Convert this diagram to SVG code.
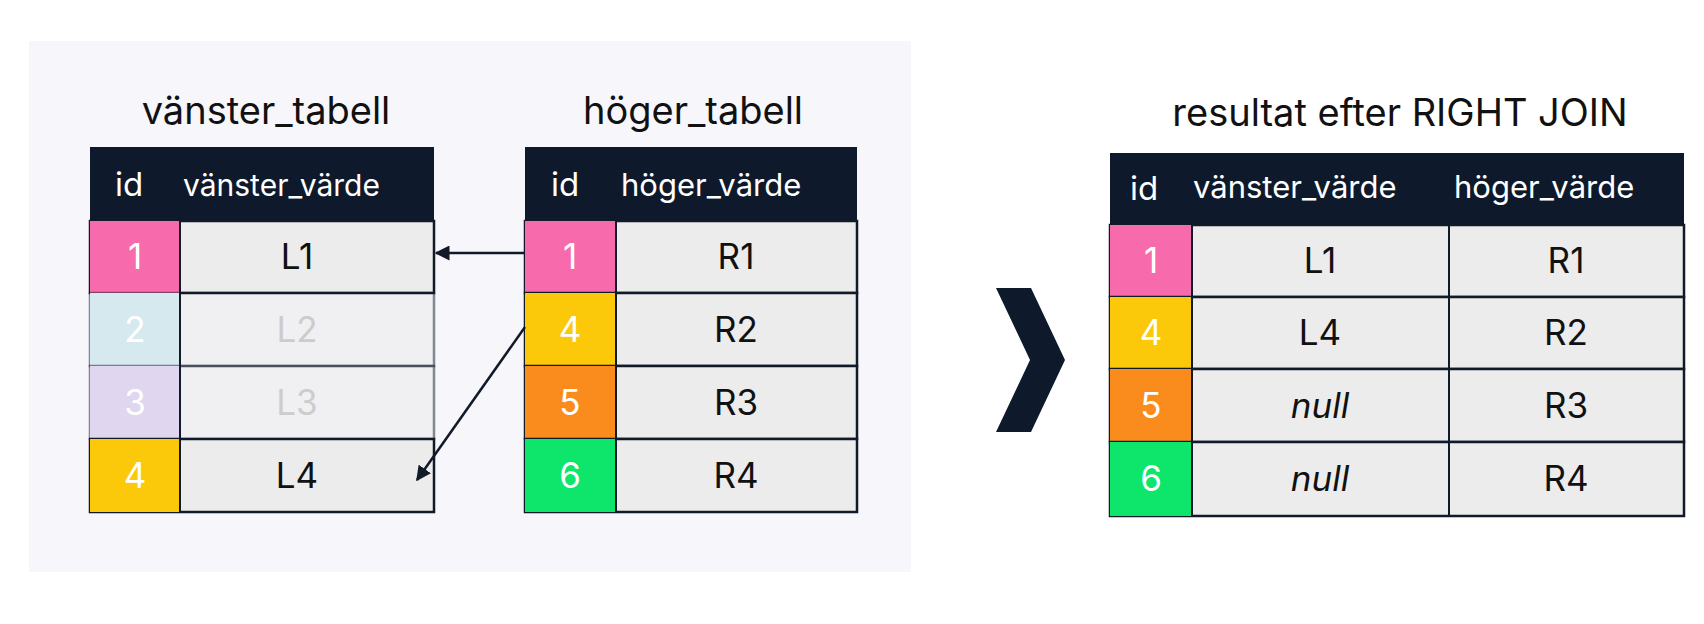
<svg xmlns="http://www.w3.org/2000/svg" width="1704" height="624" viewBox="0 0 1704 624">
<defs>
<style>
text{font-family:Inter,"Noto Sans",sans-serif;fill:#111}
.t{font-size:38px;text-anchor:middle}
.h{font-size:33px;fill:#fff}
.c{font-size:35px;text-anchor:middle}
.i{font-size:35px;fill:#fff;text-anchor:middle}
.cell{fill:#ececec;stroke:#111a28;stroke-width:2.5}
.hd{fill:#0e1a2b}
.conn{stroke:#111a28;stroke-width:2.5;fill:none;marker-end:url(#a)}
</style>
<marker id="a" viewBox="0 0 10 10" refX="9" refY="5" markerWidth="6" markerHeight="6" orient="auto"><path d="M0,0L10,5L0,10z" fill="#111a28"/></marker>
</defs>
<rect width="1704" height="624" fill="#fff"/>
<rect x="29" y="41" width="882" height="531" fill="#f6f6fb"/>
<text class="t" x="266" y="124">vänster_tabell</text>
<text class="t" x="693" y="124">höger_tabell</text>
<text class="t" x="1400" y="126">resultat efter RIGHT JOIN</text>
<g id="left">
<rect class="hd" x="90" y="147" width="344" height="74"/>
<text class="h" x="115" y="196">id</text><text class="h" x="183" y="196" style="font-size:30px">vänster_värde</text>
<rect class="cell" x="90" y="221" width="344" height="72"/><rect x="90" y="221" width="90" height="72" fill="#f76bac"/><text class="i" x="135" y="269">1</text><text class="c" x="297" y="269">L1</text>
<rect class="cell" x="90" y="293" width="344" height="73" opacity="0.5"/><rect x="90" y="293" width="90" height="73" fill="#d5e9ef"/><text class="i" x="135" y="342">2</text><text class="c" x="297" y="342" style="fill:#ccc">L2</text>
<rect class="cell" x="90" y="366" width="344" height="73" opacity="0.5"/><rect x="90" y="366" width="90" height="73" fill="#e0d6f0"/><text class="i" x="135" y="415">3</text><text class="c" x="297" y="415" style="fill:#ccc">L3</text>
<rect class="cell" x="90" y="439" width="344" height="73"/><rect x="90" y="439" width="90" height="73" fill="#fcc80a"/><text class="i" x="135" y="488">4</text><text class="c" x="297" y="488">L4</text>
<line x1="180" y1="221" x2="180" y2="512" stroke="#111a28" stroke-width="2"/>
</g>
<g id="right">
<rect class="hd" x="525" y="147" width="332" height="74"/>
<text class="h" x="551" y="196">id</text><text class="h" x="621" y="196" style="font-size:31px">höger_värde</text>
<rect class="cell" x="525" y="221" width="332" height="72"/><rect x="525" y="221" width="91" height="72" fill="#f76bac"/><text class="i" x="570" y="269">1</text><text class="c" x="736" y="269">R1</text>
<rect class="cell" x="525" y="293" width="332" height="73"/><rect x="525" y="293" width="91" height="73" fill="#fcc80a"/><text class="i" x="570" y="342">4</text><text class="c" x="736" y="342">R2</text>
<rect class="cell" x="525" y="366" width="332" height="73"/><rect x="525" y="366" width="91" height="73" fill="#fa8c1e"/><text class="i" x="570" y="415">5</text><text class="c" x="736" y="415">R3</text>
<rect class="cell" x="525" y="439" width="332" height="73"/><rect x="525" y="439" width="91" height="73" fill="#0de66b"/><text class="i" x="570" y="488">6</text><text class="c" x="736" y="488">R4</text>
<line x1="616" y1="221" x2="616" y2="512" stroke="#111a28" stroke-width="2"/>
</g>
<g id="connectors">
<line class="conn" x1="525" y1="253" x2="436" y2="253"/>
<line class="conn" x1="525" y1="327" x2="417" y2="480"/>
</g>
<g id="chevron"><path d="M996,288H1031L1065,360L1031,432H996L1030,360Z" fill="#0e1a2b"/></g>
<g id="result">
<rect class="hd" x="1110" y="153" width="574" height="72"/>
<text class="h" x="1130" y="200">id</text><text class="h" x="1193" y="198" style="font-size:31px">vänster_värde</text><text class="h" x="1454" y="198" style="font-size:31px">höger_värde</text>
<g>
<rect class="cell" x="1110" y="225" width="574" height="72"/><rect x="1110" y="225" width="82" height="72" fill="#f76bac"/><text class="i" x="1151" y="273">1</text><text class="c" x="1320" y="273">L1</text><text class="c" x="1566" y="273">R1</text>
<rect class="cell" x="1110" y="297" width="574" height="72"/><rect x="1110" y="297" width="82" height="72" fill="#fcc80a"/><text class="i" x="1151" y="345">4</text><text class="c" x="1320" y="345">L4</text><text class="c" x="1566" y="345">R2</text>
<rect class="cell" x="1110" y="369" width="574" height="73"/><rect x="1110" y="369" width="82" height="73" fill="#fa8c1e"/><text class="i" x="1151" y="418">5</text><text class="c" x="1320" y="418" font-style="italic">null</text><text class="c" x="1566" y="418">R3</text>
<rect class="cell" x="1110" y="442" width="574" height="74"/><rect x="1110" y="442" width="82" height="74" fill="#0de66b"/><text class="i" x="1151" y="491">6</text><text class="c" x="1320" y="491" font-style="italic">null</text><text class="c" x="1566" y="491">R4</text>
</g>
<line x1="1192" y1="225" x2="1192" y2="516" stroke="#111a28" stroke-width="2"/>
<line x1="1449" y1="225" x2="1449" y2="516" stroke="#111a28" stroke-width="2"/>
</g>
</svg>
